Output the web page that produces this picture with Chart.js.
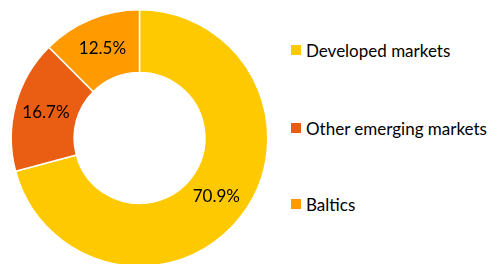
<!DOCTYPE html>
<html>
<head>
<meta charset="utf-8">
<script src="https://cdn.jsdelivr.net/npm/chart.js@4/dist/chart.umd.min.js"></script>
<style>
  html, body { margin: 0; padding: 0; background: #fff; overflow: hidden; }
  body { width: 500px; height: 264px; position: relative; font-family: Lato, "Open Sans", sans-serif; }
  #wrap { position: absolute; left: 0; top: 0; width: 280px; height: 276px; }
  #legend { position: absolute; left: 291px; top: 0; }
  .item { position: absolute; left: 0; white-space: nowrap; font-size: 17px; color: #000; }
  .item span.box { position: absolute; left: 0; top: 50%; width: 10px; height: 10px; margin-top: -5px; }
  .item span.txt { position: absolute; left: 15px; top: 50%; transform: translateY(-50%); }
</style>
</head>
<body>
<div id="wrap"><canvas id="pie"></canvas></div>
<div id="legend"></div>
<script>
// data
const labels = ['Developed markets', 'Other emerging markets', 'Baltics'];
const values = [70.9, 16.7, 12.5];
const colors = ['#FFC900', '#E95E12', '#FF9B00'];
const legendY = [50, 128, 204];

// percent labels in the middle of each slice
const sliceLabels = {
  id: 'sliceLabels',
  afterDatasetsDraw(chart) {
    const ctx = chart.ctx;
    const meta = chart.getDatasetMeta(0);
    ctx.save();
    ctx.font = '17px Lato, "Open Sans", sans-serif';
    ctx.fillStyle = '#000';
    ctx.textAlign = 'center';
    ctx.textBaseline = 'middle';
    meta.data.forEach((arc, i) => {
      const p = arc.tooltipPosition();
      ctx.fillText(values[i].toFixed(1) + '%', p.x, p.y);
    });
    ctx.restore();
  }
};

new Chart(document.getElementById('pie'), {
  type: 'doughnut',
  data: {
    labels: labels,
    datasets: [{
      data: values,
      backgroundColor: colors,
      borderColor: '#fff',
      borderWidth: 1.5
    }]
  },
  options: {
    responsive: true,
    maintainAspectRatio: false,
    animation: false,
    cutout: '51%',
    layout: { padding: { left: 10, right: 11, top: 9, bottom: 9 } },
    plugins: {
      legend: { display: false },
      tooltip: { enabled: false }
    }
  },
  plugins: [sliceLabels]
});

// legend on the right
const leg = document.getElementById('legend');
labels.forEach((l, i) => {
  const d = document.createElement('div');
  d.className = 'item';
  d.style.top = (legendY[i] - 10) + 'px';
  d.style.height = '20px';
  d.innerHTML = '<span class="box" style="background:' + colors[i] + '"></span><span class="txt">' + l + '</span>';
  leg.appendChild(d);
});
</script>
</body>
</html>
